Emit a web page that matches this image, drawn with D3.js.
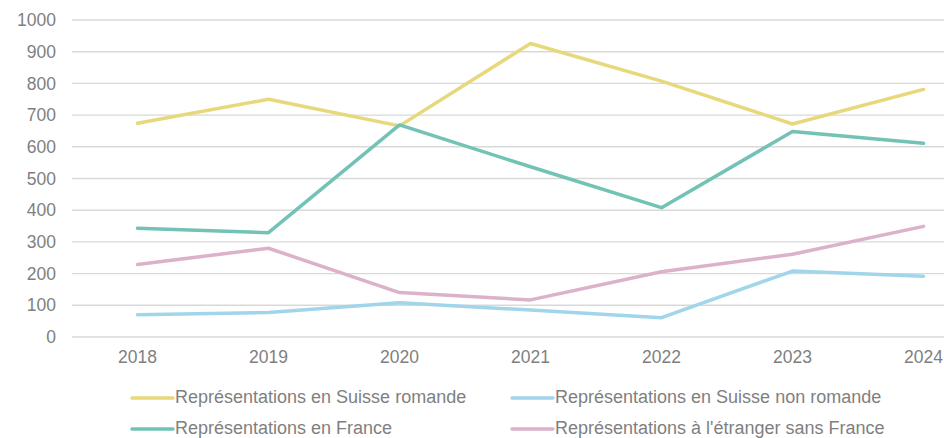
<!DOCTYPE html>
<html>
<head>
<meta charset="utf-8">
<script src="https://cdn.jsdelivr.net/npm/d3@7"></script>
<style>
  body { margin: 0; background: #fff; overflow: hidden; }
  svg text { font-family: "Liberation Sans", Arial, sans-serif; fill: #7f7f7f; }
</style>
</head>
<body>
<div id="chart"></div>
<script>
const years = ["2018", "2019", "2020", "2021", "2022", "2023", "2024"];
const yTicks = [0, 100, 200, 300, 400, 500, 600, 700, 800, 900, 1000];

const seriesNames = [
  "Représentations en Suisse romande",
  "Représentations en Suisse non romande",
  "Représentations en France",
  "Représentations à l'étranger sans France"
];
const suisseRomande = [674, 750, 666, 926, 807, 672, 781];
const suisseNonRomande = [70, 77, 108, 85, 61, 208, 192];
const france = [343, 329, 669, 537, 408, 648, 611];
const etranger = [229, 280, 140, 117, 206, 261, 349];
const colors = ["#e8d87c", "#a0d5ea", "#72c2b5", "#dcb1ca"];

const w = 944, h = 438;
const padLeft = 72, padTop = 20, plotBottom = 337;
const band = 131;

const svg = d3.select("#chart").append("svg")
  .attr("width", w)
  .attr("height", h);

const x = d3.scaleBand()
  .domain(years)
  .range([padLeft, padLeft + band * years.length]);
const y = d3.scaleLinear()
  .domain([0, 1000])
  .range([plotBottom, padTop]);

// gridlines
svg.append("g")
  .selectAll("line")
  .data(yTicks)
  .enter()
  .append("line")
  .attr("x1", padLeft)
  .attr("x2", padLeft + band * years.length)
  .attr("y1", (d) => y(d))
  .attr("y2", (d) => y(d))
  .attr("stroke", "#d9d9d9")
  .attr("stroke-width", 1.4);

// y axis labels
const yAxis = svg.append("g")
  .attr("transform", "translate(" + (padLeft - 16) + ",0)")
  .call(d3.axisLeft(y).tickValues(yTicks).tickFormat(d3.format("d")).tickSize(0).tickPadding(0));
yAxis.select(".domain").remove();
yAxis.selectAll("text")
  .attr("font-size", "17.5px")
  .attr("fill", "#7f7f7f")
  .attr("font-family", "Liberation Sans, Arial, sans-serif");

// x axis labels
const xAxis = svg.append("g")
  .attr("transform", "translate(0," + plotBottom + ")")
  .call(d3.axisBottom(x).tickSize(0).tickPadding(14));
xAxis.select(".domain").remove();
xAxis.selectAll("text")
  .attr("font-size", "17.5px")
  .attr("fill", "#7f7f7f")
  .attr("font-family", "Liberation Sans, Arial, sans-serif");

const allSeries = [suisseRomande, suisseNonRomande, france, etranger];
const line = d3.line()
  .x((d, i) => x(years[i]) + x.bandwidth() / 2)
  .y((d) => y(d));

// draw order: romande, non romande, etranger, france on top
[0, 1, 3, 2].forEach((k) => {
  svg.append("path")
    .datum(allSeries[k])
    .attr("fill", "none")
    .attr("stroke", colors[k])
    .attr("stroke-width", 3.5)
    .attr("stroke-linejoin", "round")
    .attr("stroke-linecap", "round")
    .attr("d", line);
});

// legend
const legPos = [[132, 398], [512, 398], [132, 429], [512, 429]];
const legend = svg.selectAll(".legend")
  .data(seriesNames)
  .enter()
  .append("g")
  .attr("class", "legend")
  .attr("transform", (d, i) => "translate(" + legPos[i][0] + "," + legPos[i][1] + ")");
legend.append("line")
  .attr("x1", 0)
  .attr("x2", 41)
  .attr("stroke", (d, i) => colors[i])
  .attr("stroke-width", 3.5)
  .attr("stroke-linecap", "round");
legend.append("text")
  .attr("x", 43)
  .attr("y", 5)
  .attr("font-size", "18px")
  .text((d) => d);
</script>
</body>
</html>
